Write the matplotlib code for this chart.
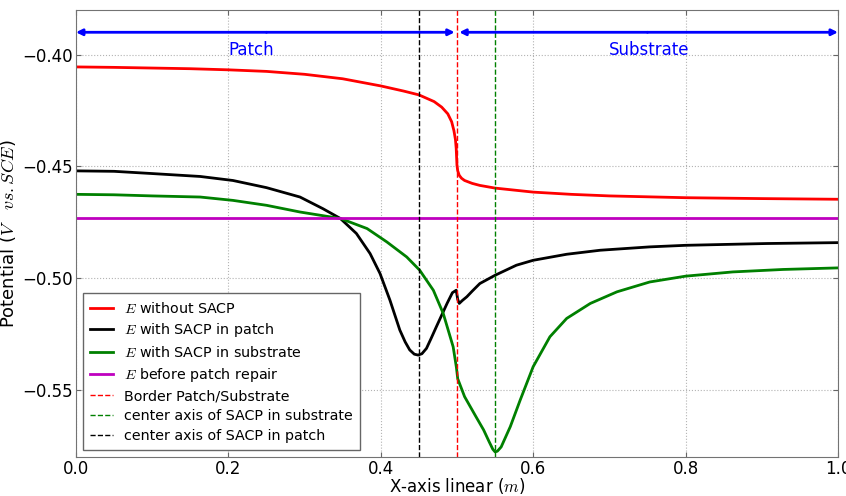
import matplotlib
matplotlib.use("Agg")
import matplotlib.pyplot as plt

plt.rcParams["mathtext.fontset"] = "cm"
plt.rcParams["font.family"] = ["DejaVu Sans"]

# E without SACP
x_red = [0.0, 0.05, 0.1, 0.15, 0.2, 0.25, 0.3, 0.35, 0.4, 0.43, 0.45, 0.47, 0.48,
         0.488, 0.493, 0.496, 0.498, 0.499, 0.5, 0.501, 0.503, 0.506, 0.51, 0.52,
         0.53, 0.55, 0.6, 0.65, 0.7, 0.8, 0.9, 1.0]
y_red = [-0.4055, -0.4057, -0.4060, -0.4063, -0.4068, -0.4075, -0.4088, -0.4108,
         -0.4140, -0.4163, -0.4180, -0.4210, -0.4235, -0.4265, -0.4300, -0.4340,
         -0.4380, -0.4420, -0.4495, -0.4520, -0.4540, -0.4553, -0.4563, -0.4576,
         -0.4585, -0.4597, -0.4615, -0.4625, -0.4632, -0.4640, -0.4644, -0.4647]

# E with SACP in patch
x_blk = [0.0, 0.05, 0.1, 0.163, 0.206, 0.25, 0.294, 0.324, 0.347, 0.368, 0.386,
         0.399, 0.412, 0.425, 0.432, 0.438, 0.444, 0.449, 0.454, 0.46, 0.466,
         0.473, 0.487, 0.494, 0.499, 0.501, 0.503, 0.507, 0.513, 0.52, 0.53,
         0.55, 0.578, 0.6, 0.644, 0.688, 0.753, 0.8, 0.906, 1.0]
y_blk = [-0.4520, -0.4522, -0.4532, -0.4545, -0.4563, -0.4595, -0.4637, -0.4689,
         -0.4733, -0.4800, -0.4890, -0.4979, -0.5098, -0.5232, -0.5285, -0.5321,
         -0.5340, -0.5344, -0.5338, -0.5314, -0.5270, -0.5217, -0.5113, -0.5065,
         -0.5054, -0.5095, -0.5113, -0.5100, -0.5083, -0.5058, -0.5024, -0.4987,
         -0.4942, -0.4920, -0.4893, -0.4875, -0.4860, -0.4853, -0.4845, -0.4841]

# E with SACP in substrate
x_grn = [0.0, 0.05, 0.1, 0.163, 0.206, 0.25, 0.294, 0.347, 0.382, 0.408, 0.434,
         0.451, 0.469, 0.482, 0.495, 0.4993, 0.501, 0.51, 0.525, 0.535, 0.542,
         0.547, 0.55, 0.553, 0.558, 0.57, 0.583, 0.6, 0.622, 0.644, 0.675, 0.71,
         0.753, 0.8, 0.862, 0.928, 1.0]
y_grn = [-0.4625, -0.4627, -0.4632, -0.4637, -0.4652, -0.4674, -0.4704, -0.4733,
         -0.4778, -0.4838, -0.4905, -0.4964, -0.5054, -0.5158, -0.5307, -0.5400,
         -0.5450, -0.5530, -0.5620, -0.5679, -0.5730, -0.5765, -0.5777, -0.5774,
         -0.5755, -0.5664, -0.5545, -0.5396, -0.5262, -0.5180, -0.5113, -0.5061,
         -0.5017, -0.4991, -0.4972, -0.4961, -0.4954]

# E before patch repair
y_mag = -0.473

x_border = 0.5
x_sub_axis = 0.55
x_patch_axis = 0.45

fig = plt.figure(figsize=(8.46, 4.96), dpi=100)
ax = fig.add_axes([0.0898, 0.0786, 0.9007, 0.9014])

ax.plot(x_red, y_red, color="red", lw=2, label="$E$ without SACP")
ax.plot(x_blk, y_blk, color="black", lw=2, label="$E$ with SACP in patch")
ax.plot(x_grn, y_grn, color="green", lw=2, label="$E$ with SACP in substrate")
ax.axhline(y_mag, color="m", lw=2, label="$E$ before patch repair")
ax.axvline(x_border, color="red", ls="--", lw=1, label="Border Patch/Substrate")
ax.axvline(x_sub_axis, color="green", ls="--", lw=1,
           label="center axis of SACP in substrate")
ax.axvline(x_patch_axis, color="black", ls="--", lw=1,
           label="center axis of SACP in patch")

# patch / substrate arrows
arr = dict(arrowstyle="-|>", color="blue", lw=2, mutation_scale=9,
           shrinkA=0, shrinkB=0)
ax.annotate("", xy=(0.0, -0.39), xytext=(0.25, -0.39), arrowprops=arr)
ax.annotate("", xy=(0.497, -0.39), xytext=(0.25, -0.39), arrowprops=arr)
ax.annotate("", xy=(0.503, -0.39), xytext=(0.75, -0.39), arrowprops=arr)
ax.annotate("", xy=(1.0, -0.39), xytext=(0.75, -0.39), arrowprops=arr)
ax.text(0.2, -0.398, "Patch", color="blue", fontsize=12, va="center")
ax.text(0.7, -0.398, "Substrate", color="blue", fontsize=12, va="center")

ax.set_xlim(0, 1)
ax.set_ylim(-0.58, -0.38)
ax.set_xticks([0.0, 0.2, 0.4, 0.6, 0.8, 1.0])
ax.set_yticks([-0.40, -0.45, -0.50, -0.55])
ax.set_yticklabels(["\u22120.40", "\u22120.45", "\u22120.50", "\u22120.55"])
ax.tick_params(labelsize=12, direction="in", top=True, right=True,
               color="0.4", pad=2)
ax.grid(True, color="0.7", ls=":", lw=0.8)
for s in ax.spines.values():
    s.set_color("0.45")

ax.set_xlabel("X-axis linear ($m$)", fontsize=12, labelpad=-1)
ax.set_ylabel("Potential ($V\\quad vs.SCE$)", fontsize=13, labelpad=3)

leg = ax.legend(loc="lower left", fontsize=10.3, handlelength=1.6,
                fancybox=False, framealpha=1, borderpad=0.5,
                labelspacing=0.4, borderaxespad=0,
                bbox_to_anchor=(0.0092, 0.0157))
leg.get_frame().set_edgecolor("0.4")

fig.savefig("out.png", dpi=100)
